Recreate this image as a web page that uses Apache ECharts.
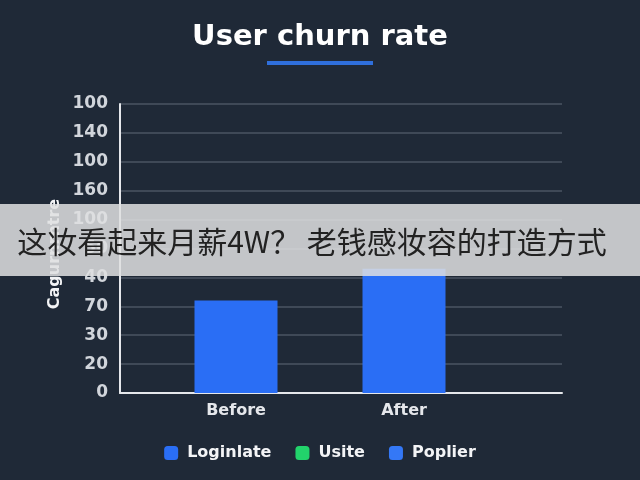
<!DOCTYPE html>
<html>
<head>
<meta charset="utf-8">
<script src="https://cdn.jsdelivr.net/npm/echarts@6/dist/echarts.min.js"></script>
<style>
html,body{margin:0;padding:0;background:#1f2937;}
#c{width:640px;height:480px;}
</style>
</head>
<body>
<div id="c"></div>
<script>
const categories = ['Before', 'After'];
const churnValues = [32, 43];
const legendNames = ['Loginlate', 'Usite', 'Poplier'];
const yTickLabels = ['0', '20', '30', '70', '40', '50', '100', '160', '100', '140', '100'];
const titleText = 'User churn rate';
const yAxisTitle = 'Cagurnrntre';
const bannerText = '这妆看起来月薪4W？ 老钱感妆容的打造方式';

const FONT = 'DejaVu Sans';
const chart = echarts.init(document.getElementById('c'));
chart.setOption({
  backgroundColor: '#1f2937',
  animation: false,
  title: {
    text: titleText, left: 'center', top: 18,
    textStyle: { color: '#ffffff', fontSize: 29, fontWeight: 'bold', fontFamily: FONT }
  },
  legend: {
    data: legendNames, left: 'center', top: 440,
    icon: 'roundRect', itemWidth: 14, itemHeight: 14, itemGap: 24,
    textStyle: { color: '#f3f4f6', fontSize: 16, fontWeight: 'bold', fontFamily: FONT, padding: [0, 0, 0, 4] }
  },
  grid: [
    { left: 120, right: 78, top: 104, bottom: 87 },
    { left: 152, right: 152, top: 104, bottom: 87 }
  ],
  xAxis: [
    { type: 'category', gridIndex: 0, data: ['', ''],
      axisLine: { show: true, lineStyle: { color: '#e5e7eb', width: 2 } },
      axisTick: { show: false }, axisLabel: { show: false } },
    { type: 'category', gridIndex: 1, data: categories,
      axisLine: { show: false }, axisTick: { show: false },
      axisLabel: { color: '#e5e7eb', fontSize: 16, fontWeight: 'bold', fontFamily: FONT, margin: 10 } }
  ],
  yAxis: [
    { type: 'value', gridIndex: 0, min: 0, max: 100, interval: 10,
      axisLine: { show: true, lineStyle: { color: '#e5e7eb', width: 2 } },
      axisTick: { show: false },
      splitLine: { lineStyle: { color: '#4b5563', width: 1.5 } },
      axisLabel: { color: '#d1d5db', fontSize: 17, fontWeight: 'bold', fontFamily: FONT, margin: 12,
        formatter: v => yTickLabels[Math.round(v / 10)] } },
    { type: 'value', gridIndex: 1, min: 0, max: 100, interval: 10, show: false, splitLine: { show: false } }
  ],
  series: [
    { name: legendNames[0], type: 'bar', xAxisIndex: 1, yAxisIndex: 1, data: churnValues,
      barWidth: 83, itemStyle: { color: '#2a6ef5' } },
    { name: legendNames[1], type: 'bar', xAxisIndex: 0, yAxisIndex: 0, data: [], itemStyle: { color: '#22d36b' } },
    { name: legendNames[2], type: 'bar', xAxisIndex: 0, yAxisIndex: 0, data: [], itemStyle: { color: '#3478f6' } }
  ],
  graphic: [
    { type: 'rect', shape: { x: 267, y: 61, width: 106, height: 4 }, style: { fill: '#2f6fdc' } },
    { type: 'text', x: 55, y: 254, rotation: Math.PI / 2,
      style: { text: yAxisTitle, fill: '#f3f4f6', font: 'bold 16px "DejaVu Sans"', align: 'center', verticalAlign: 'middle' } },
    { type: 'rect', shape: { x: 0, y: 204, width: 640, height: 72 }, style: { fill: 'rgba(222,223,225,0.86)' }, z: 100 },
    { type: 'text', x: 312, y: 242, z: 101,
      style: { text: bannerText, fill: '#222222', font: '30px "Noto Sans CJK SC"', align: 'center', verticalAlign: 'middle' } }
  ]
});
</script>
</body>
</html>
